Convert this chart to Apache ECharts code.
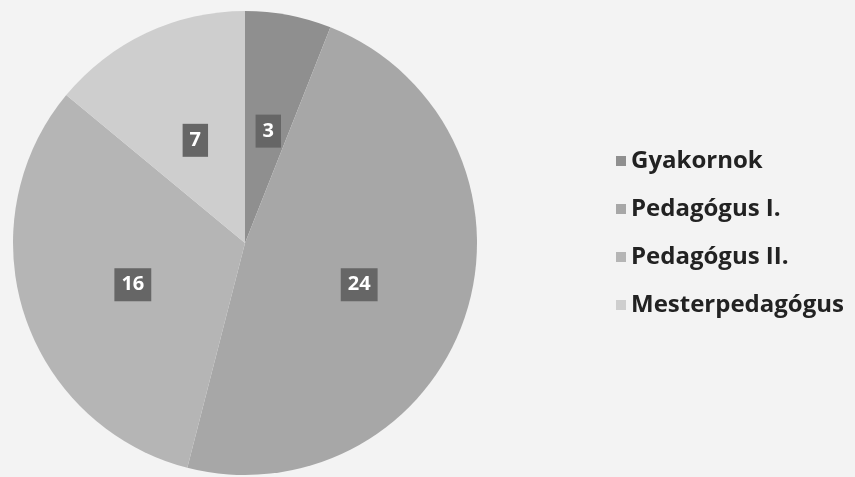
<!DOCTYPE html>
<html>
<head>
<meta charset="utf-8">
<script src="https://cdn.jsdelivr.net/npm/echarts@6/dist/echarts.min.js"></script>
<style>
html,body{margin:0;padding:0;background:#f3f3f3;}
#c{width:855px;height:477px;}
</style>
</head>
<body>
<div id="c"></div>
<script>
var categories = ["Gyakornok", "Pedagógus I.", "Pedagógus II.", "Mesterpedagógus"];
var values = [3, 24, 16, 7];
var colors = ["#8f8f8f", "#a7a7a7", "#b5b5b5", "#cecece"];

var chart = echarts.init(document.getElementById('c'));
chart.setOption({
  backgroundColor: '#f3f3f3',
  animation: false,
  legend: {
    orient: 'vertical',
    left: 611,
    top: 144,
    itemWidth: 10,
    itemHeight: 10,
    itemGap: 24,
    icon: 'rect',
    data: categories,
    textStyle: {
      fontFamily: 'Open Sans',
      fontWeight: 'bold',
      fontSize: 24,
      color: '#222222',
      padding: [0, 0, 0, 0]
    }
  },
  series: [{
    type: 'pie',
    center: [245, 243],
    radius: [0, 232],
    startAngle: 90,
    clockwise: true,
    itemStyle: { borderWidth: 0 },
    label: {
      show: true,
      position: 'inside',
      formatter: '{c}',
      offset: [1, 5],
      color: '#ffffff',
      fontFamily: 'Open Sans',
      fontWeight: 'bold',
      fontSize: 20,
      backgroundColor: '#666666',
      padding: [7, 7, 6, 7]
    },
    labelLine: { show: false },
    emphasis: { disabled: true },
    data: categories.map(function (n, i) {
      return { name: n, value: values[i], itemStyle: { color: colors[i] } };
    })
  }]
});
</script>
</body>
</html>
